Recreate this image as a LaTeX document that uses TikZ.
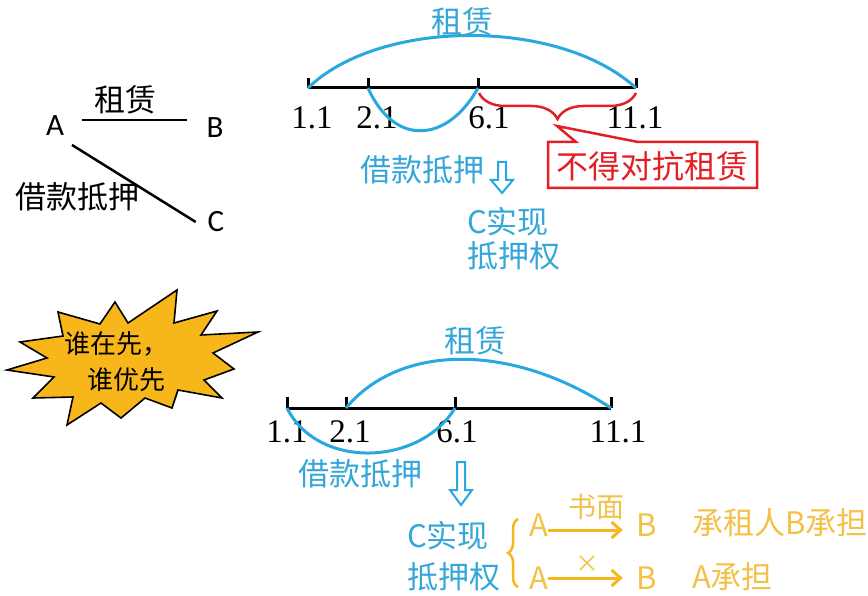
\documentclass[tikz,border=0pt]{standalone}
\usepackage{fontspec}
\setmainfont{Liberation Serif}
\newfontfamily\cjk{Noto Sans CJK SC}
\newfontfamily\lat{Carlito}
\usetikzlibrary{arrows.meta,decorations.pathreplacing}
\definecolor{lblue}{RGB}{41,168,224}
\definecolor{tblue}{RGB}{52,166,216}
\definecolor{cred}{RGB}{228,30,36}
\definecolor{corange}{RGB}{245,182,30}
\definecolor{torange}{RGB}{243,192,72}
\definecolor{burst}{RGB}{247,183,27}
\begin{document}
\begin{tikzpicture}[x=1pt,y=-1pt,
  every node/.style={inner sep=0pt, outer sep=0pt},
  cjkt/.style={font=\cjk\fontsize{31}{33}\selectfont},
  bluet/.style={cjkt, text=tblue},
  oranget/.style={font=\cjk\fontsize{31}{33}\selectfont, text=torange},
  latt/.style={font=\lat\fontsize{31}{33}\selectfont},
  digit/.style={font=\fontsize{33}{35}\selectfont},
  tline/.style={line width=3pt, black},
  tick/.style={line width=3pt, black},
  bcurve/.style={line width=3pt, lblue},
  hollow/.style={draw=lblue, line width=2pt, fill=white, line join=miter},
  oarrow/.style={line width=3pt, corange, -{Straight Barb[length=9pt,width=16pt,line width=3pt]}},
]
\useasboundingbox (0,0) rectangle (868,596);

% ---------------- left small diagram ----------------
\node[latt] (A) at (55,126) {A};
\node[latt] (B) at (215,128) {B};
\node[latt] (C) at (216,222) {C};
\node[cjkt] (zl) at (125,100) {租赁};
\node[cjkt] (jl) at (78,197) {借款抵押};
\draw[line width=2.5pt] ([xshift=18pt,yshift=6pt]A.east) -- ([xshift=-20pt,yshift=8pt]B.west);
\draw[line width=2.5pt] ([shift={(8pt,-9pt)}]A.south east) -- ([xshift=-12pt]C.west);

% ---------------- top timeline ----------------
\coordinate (t1) at (308,88);
\coordinate (t2) at (368,88);
\coordinate (t3) at (478,88);
\coordinate (t4) at (636,88);
\draw[tline] (t1) -- (t4);
\foreach \p in {t1,t2,t3,t4} \draw[tick] (\p) -- ++(0,-10);
\node[digit] (l1) at (312,118) {1.1};
\node[digit] (l2) at (377,118) {2.1};
\node[digit] (l3) at (489,118) {6.1};
\node[digit] (l4) at (635,118) {11.1};
\draw[bcurve] (t1) .. controls (380,18) and (560,18) .. (t4);
\draw[bcurve] (t2) .. controls (395,148) and (448,142) .. (t3);
\node[bluet] (zt) at (462,22) {租赁};

% red brace and callout
\draw[cred, line width=2.5pt, decorate, decoration={brace, amplitude=26pt, aspect=0.5}] (636,93) -- (479,93);
\draw[cred, line width=2.5pt, fill=white, line join=miter]
  (548,142) -- (576,142) -- (557,126) -- (638,142) -- (757,142) -- (757,188) -- (548,188) -- cycle;
\node[font=\cjk\fontsize{32}{34}\selectfont, text=cred] (nd) at (652,166) {不得对抗租赁};

\node[bluet] (jt) at (422,170) {借款抵押};
\draw[hollow, shift={(502,162)}] (-4,0) -- (4,0) -- (4,18) -- (11,18) -- (0,31) -- (-11,18) -- (-4,18) -- cycle;
\node[bluet, anchor=west] (cs1) at (467,222) {C实现};
\node[bluet, anchor=west] (cs2) at (467,256) {抵押权};

% ---------------- starburst ----------------
\draw[fill=burst, line width=1.6pt, line join=miter]
  (58,312) -- (100,324) -- (115,302) -- (128,323) -- (177,290) -- (174,323)
  -- (217,311) -- (201,335) -- (258,332) -- (213,353) -- (234,369) -- (204,380)
  -- (222,398) -- (178,390) -- (172,408) -- (145,398) -- (121,418) -- (101,403)
  -- (67,425) -- (73,397) -- (33,398) -- (54,377) -- (7,370) -- (47,358)
  -- (20,342) -- (63,336) -- cycle;
\node[font=\cjk\fontsize{26}{28}\selectfont] (w1) at (116,344) {谁在先，};
\node[font=\cjk\fontsize{26}{28}\selectfont] (w2) at (126,380) {谁优先};

% ---------------- bottom timeline ----------------
\coordinate (u1) at (287,408);
\coordinate (u2) at (346,408);
\coordinate (u3) at (455,408);
\coordinate (u4) at (611,408);
\draw[tline] (u1) -- (u4);
\foreach \p in {u1,u2,u3,u4} \draw[tick] (\p) -- ++(0,-11);
\node[digit] (m1) at (287,432) {1.1};
\node[digit] (m2) at (350,432) {2.1};
\node[digit] (m3) at (457,432) {6.1};
\node[digit] (m4) at (618,432) {11.1};
\draw[bcurve] (u2) .. controls (400,343) and (512,343) .. (u4);
\draw[bcurve] (u1) .. controls (318,470) and (420,466) .. (u3);
\node[bluet] (zb) at (475,341) {租赁};
\node[bluet] (jb) at (360,474) {借款抵押};
\draw[hollow, shift={(461,462)}] (-4,0) -- (4,0) -- (4,28) -- (11,28) -- (0,43) -- (-11,28) -- (-4,28) -- cycle;
\node[bluet, anchor=west] (cb1) at (407,536) {C实现};
\node[bluet, anchor=west] (cb2) at (407,577) {抵押权};

% orange part
\draw[corange, line width=2.5pt, decorate, decoration={brace, amplitude=10pt, aspect=0.5}] (518,587) -- (518,519);
\node[oranget] (a1) at (539,525) {A};
\node[oranget] (b1) at (647,525) {B};
\node[oranget] (a2) at (539,578) {A};
\node[oranget] (b2) at (647,578) {B};
\draw[oarrow, shorten >=14pt] ([yshift=-5pt]a1.east) -- ([yshift=-5pt]b1.west);
\draw[oarrow, shorten >=14pt] ([yshift=0pt]a2.east) -- ([yshift=0pt]b2.west);
\node[font=\cjk\fontsize{28}{30}\selectfont, text=torange] (sm) at (596,507) {书面};
\node[font=\cjk\fontsize{24}{26}\selectfont, text=torange] (xx) at (587,564) {×};
\node[oranget, anchor=west] (r1) at (692,523) {承租人B承担};
\node[oranget, anchor=west] (r2) at (692,577) {A承担};
\end{tikzpicture}
\end{document}
